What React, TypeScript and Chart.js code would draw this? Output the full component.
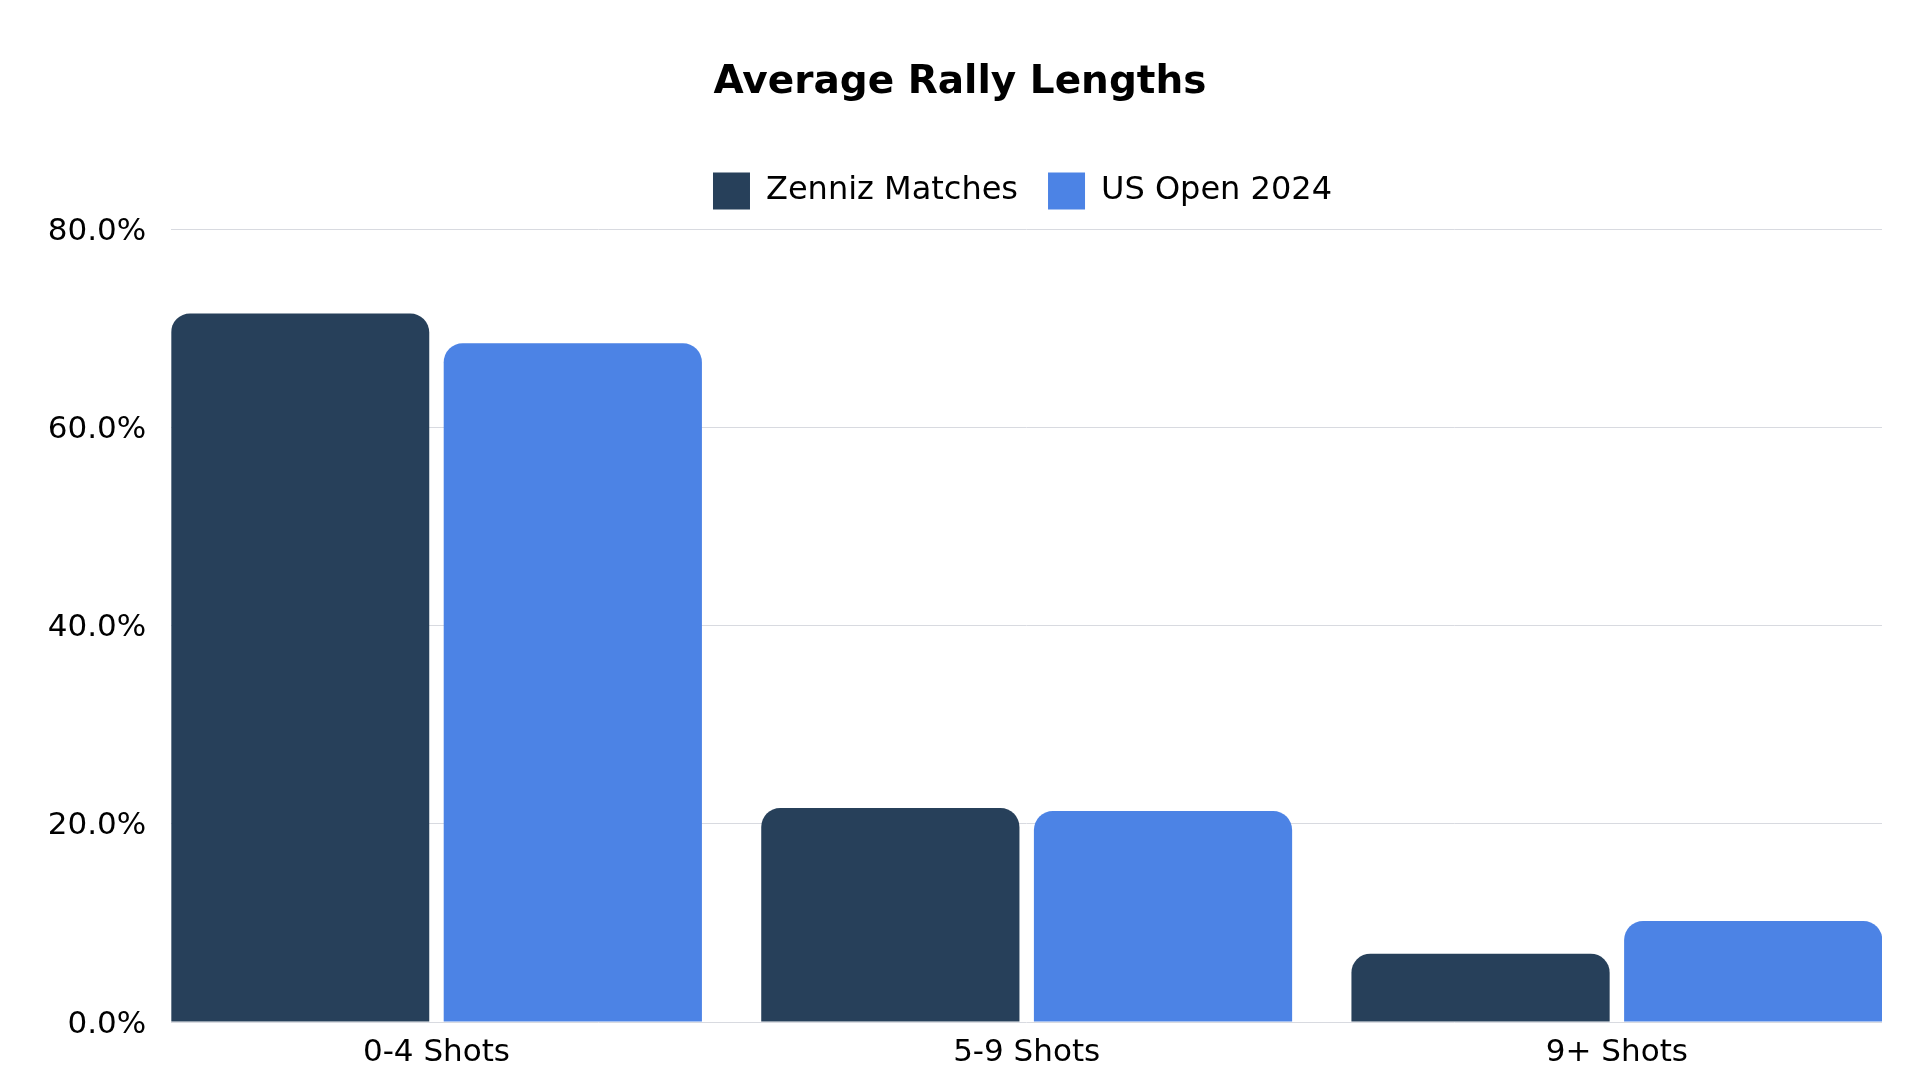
import React, { useEffect, useRef } from "react";
import { Chart, registerables } from "chart.js";

Chart.register(...registerables);

const categories = ["0-4 Shots", "5-9 Shots", "9+ Shots"];
const seriesNames = ["Zenniz Matches", "US Open 2024"];
const zennizValues = [71.5, 21.6, 6.9];
const usOpenValues = [68.5, 21.3, 10.2];
const yTicks = [0, 20, 40, 60, 80];
const titleText = "Average Rally Lengths";

const FONT = "'DejaVu Sans', sans-serif";

const shiftPlugin = {
  id: "shiftBoxes",
  afterLayout(chart: any) {
    const t = chart.titleBlock;
    if (t) {
      t.left += 19;
      t.right += 19;
    }
    const l = chart.legend;
    if (l) {
      l.left += 81.5;
      l.right += 81.5;
    }
    const y = chart.scales && chart.scales.y;
    if (y && !y._labelShifted) {
      const orig = y.drawLabels.bind(y);
      y.drawLabels = (area: any) => {
        const ctx = chart.ctx;
        ctx.save();
        ctx.translate(0, 2.5);
        orig(area);
        ctx.restore();
      };
      y._labelShifted = true;
    }
  },
};

export default function App() {
  const ref = useRef<HTMLCanvasElement | null>(null);

  useEffect(() => {
    document.body.style.margin = "0";
    const canvas = ref.current;
    if (!canvas) return;
    const chart = new Chart(canvas, {
      type: "bar",
      data: {
        labels: categories,
        datasets: [
          {
            label: seriesNames[0],
            data: zennizValues,
            backgroundColor: "#27405A",
            borderWidth: 0,
            borderRadius: 19,
            borderSkipped: "start",
          },
          {
            label: seriesNames[1],
            data: usOpenValues,
            backgroundColor: "#4C83E5",
            borderWidth: 0,
            borderRadius: 19,
            borderSkipped: "start",
          },
        ],
      },
      plugins: [shiftPlugin],
      options: {
        responsive: false,
        animation: false,
        devicePixelRatio: 1,
        layout: { padding: { left: 0, right: 38, top: 0, bottom: 0 } },
        datasets: {
          bar: { categoryPercentage: 0.924, barPercentage: 0.947 },
        },
        plugins: {
          title: {
            display: true,
            text: titleText,
            color: "#000",
            font: { family: FONT, size: 39, weight: "bold", lineHeight: 1.2 },
            padding: { top: 59.5, bottom: 36.2 },
          },
          subtitle: {
            display: true,
            text: "",
            weight: 500,
            font: { family: FONT, size: 10, lineHeight: 0.98 },
            padding: 0,
          } as any,
          legend: {
            display: true,
            position: "top",
            labels: {
              boxWidth: 37,
              boxHeight: 37,
              padding: 30,
              color: "#000",
              font: { family: FONT, size: 32 },
            },
          },
          tooltip: { enabled: false },
        },
        scales: {
          x: {
            offset: true,
            grid: { display: false, drawTicks: false },
            border: { display: false },
            ticks: {
              color: "#000",
              padding: 12,
              font: { family: FONT, size: 31, lineHeight: 1.2 },
              maxRotation: 0,
            },
            afterBuildTicks: (scale: any) => {
              scale._startValue = -0.4493;
              scale._valueRange = 2.8985;
            },
            afterFit: (scale: any) => {
              scale.height = 58;
            },
          },
          y: {
            min: yTicks[0],
            max: yTicks[yTicks.length - 1],
            grid: { color: "#d8dae0", lineWidth: 1, drawTicks: false },
            border: { display: false },
            ticks: {
              stepSize: yTicks[1] - yTicks[0],
              color: "#000",
              padding: 25,
              font: { family: FONT, size: 31, lineHeight: 1.2 },
              callback: (v: any) => Number(v).toFixed(1) + "%",
            },
            afterFit: (scale: any) => {
              scale.width = 171.3;
            },
          },
        },
      },
    });
    return () => chart.destroy();
  }, []);

  return (
    <div style={{ position: "absolute", left: 0, top: 0, width: 1920, height: 1080, background: "#fff" }}>
      <canvas ref={ref} width={1920} height={1080} style={{ display: "block", width: 1920, height: 1080 }} />
    </div>
  );
}
